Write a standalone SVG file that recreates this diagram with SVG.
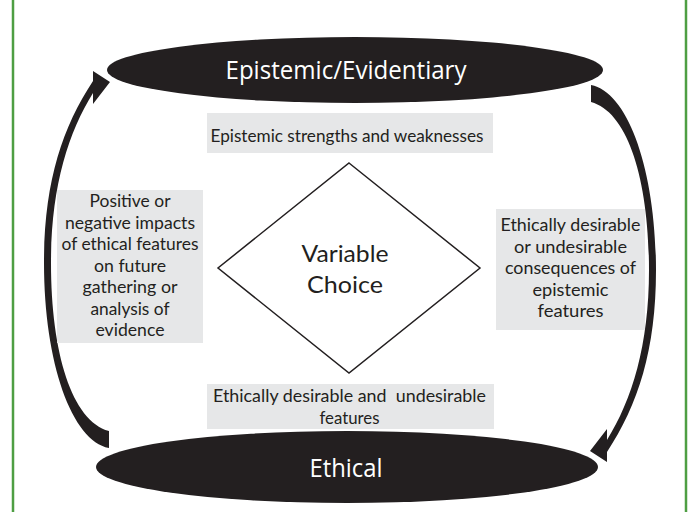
<svg xmlns="http://www.w3.org/2000/svg" width="691" height="512" viewBox="0 0 691 512">
<style>
.bg{fill:#ffffff}
.frame{stroke:#4e9e43;stroke-width:2.5;fill:none}
.ell{fill:#231f20}
.box{fill:#e6e7e8}
.t{font-family:Lato,"Open Sans",sans-serif;fill:#231f20;text-anchor:middle}
.s{font-size:17.5px}
.w{font-family:"Open Sans","Noto Sans",sans-serif;fill:#ffffff;text-anchor:middle;font-size:25px}
.arr{fill:#231f20}
.dia{fill:#ffffff;stroke:#231f20;stroke-width:1.5}
</style>
<rect class="bg" x="0" y="0" width="691" height="512"/>
<line class="frame" x1="13" y1="0" x2="13" y2="512"/>
<line class="frame" x1="686" y1="0" x2="686" y2="512"/>

<g id="connectors">
  <path id="arrow-right" class="arr" d="M591,85 C628,92 656,170 656,270 C656,350 638,405 607,452 L607,462 L590,451 L607,429 L607,440 C632,400 649,345 649,270 C649,180 628,112 591,102 Z"/>
  <path id="arrow-left" class="arr" transform="rotate(180 350 266.5)" d="M591,85 C628,92 656,170 656,270 C656,350 638,405 607,452 L607,462 L590,451 L607,429 L607,440 C632,400 649,345 649,270 C649,180 628,112 591,102 Z"/>
</g>

<g id="node-epistemic">
  <ellipse class="ell" cx="355" cy="70" rx="248" ry="33"/>
  <text class="w" x="346" y="79" textLength="241" lengthAdjust="spacingAndGlyphs">Epistemic/Evidentiary</text>
</g>

<g id="node-ethical">
  <ellipse class="ell" cx="347" cy="467" rx="251" ry="36"/>
  <text class="w" x="346" y="477" textLength="73" lengthAdjust="spacingAndGlyphs">Ethical</text>
</g>

<g id="label-top">
  <rect class="box" x="207" y="113" width="286" height="40"/>
  <text class="t s" x="347" y="142" textLength="273" lengthAdjust="spacingAndGlyphs">Epistemic strengths and weaknesses</text>
</g>

<g id="node-choice">
  <polygon class="dia" points="349,163 480,268 349,373 218,268"/>
  <text class="t" style="font-size:23px" x="345" y="262" textLength="87" lengthAdjust="spacingAndGlyphs">Variable</text>
  <text class="t" style="font-size:23px" x="345" y="293" textLength="76" lengthAdjust="spacingAndGlyphs">Choice</text>
</g>

<g id="label-left">
  <rect class="box" x="57" y="190" width="146" height="153"/>
  <text class="t s" x="130" y="207" textLength="81" lengthAdjust="spacingAndGlyphs">Positive or</text>
  <text class="t s" x="130" y="228.5" textLength="130" lengthAdjust="spacingAndGlyphs">negative impacts</text>
  <text class="t s" x="130" y="250" textLength="137" lengthAdjust="spacingAndGlyphs">of ethical features</text>
  <text class="t s" x="130" y="271.5" textLength="72" lengthAdjust="spacingAndGlyphs">on future</text>
  <text class="t s" x="130" y="293" textLength="95" lengthAdjust="spacingAndGlyphs">gathering or</text>
  <text class="t s" x="130" y="314.5" textLength="79" lengthAdjust="spacingAndGlyphs">analysis of</text>
  <text class="t s" x="130" y="336" textLength="69" lengthAdjust="spacingAndGlyphs">evidence</text>
</g>

<g id="label-right">
  <rect class="box" x="496" y="209" width="149" height="121"/>
  <text class="t s" x="570.5" y="231" textLength="140" lengthAdjust="spacingAndGlyphs">Ethically desirable</text>
  <text class="t s" x="570.5" y="252.5" textLength="113" lengthAdjust="spacingAndGlyphs">or undesirable</text>
  <text class="t s" x="570.5" y="274" textLength="131" lengthAdjust="spacingAndGlyphs">consequences of</text>
  <text class="t s" x="570.5" y="295.5" textLength="76" lengthAdjust="spacingAndGlyphs">epistemic</text>
  <text class="t s" x="570.5" y="317" textLength="66" lengthAdjust="spacingAndGlyphs">features</text>
</g>

<g id="label-bottom">
  <rect class="box" x="207" y="384" width="287" height="45"/>
  <text class="t s" x="349.5" y="402" textLength="273" lengthAdjust="spacingAndGlyphs" xml:space="preserve">Ethically desirable and  undesirable</text>
  <text class="t s" x="349.5" y="424" textLength="60" lengthAdjust="spacingAndGlyphs">features</text>
</g>
</svg>
